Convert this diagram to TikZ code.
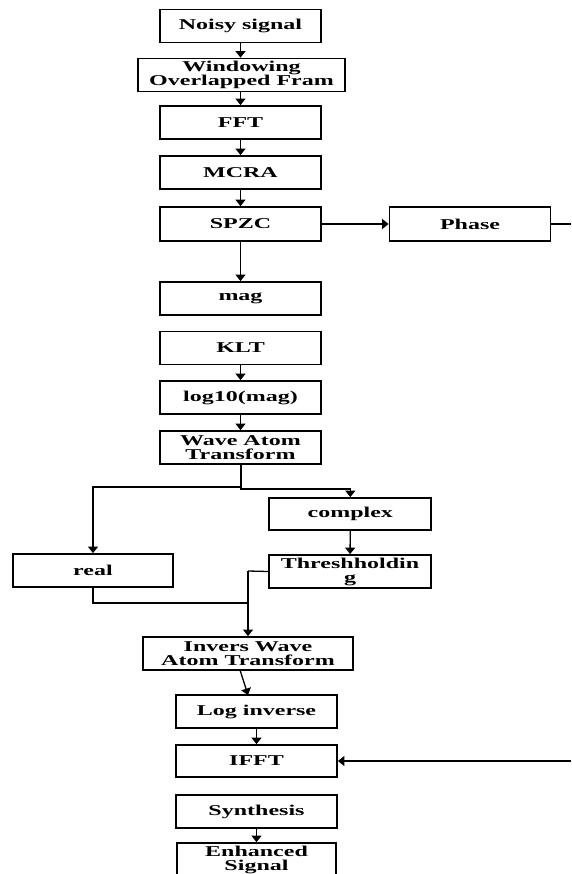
\documentclass[tikz,border=0pt]{standalone}
\usepackage{fontspec}
\setmainfont{Liberation Serif}[FakeStretch=1.6]
\usetikzlibrary{arrows.meta}

\tikzset{
  box/.style={draw, line width=1.8pt, minimum height=33pt, inner sep=0pt,
    align=center, font=\bfseries\fontsize{15}{14}\selectfont},
  mainbox/.style={box, minimum width=161pt},
  link/.style={line width=1.3pt},
  arrow/.style={link, -{Triangle[length=6.5pt,width=10pt]}}
}

\begin{document}
\begin{tikzpicture}[x=1pt, y=-1pt]
  \clip (0,0) rectangle (571,874);
  \fill[white] (0,0) rectangle (571,874);

  % main processing column
  \node[mainbox] (noisy) at (240.5,26) {Noisy signal};
  \node[box, minimum width=207pt] (window) at (241.5,75) {Windowing\\Overlapped Fram};
  \node[mainbox] (fft) at (240.5,122.5) {FFT};
  \node[mainbox] (mcra) at (240.5,172.5) {MCRA};
  \node[mainbox, minimum height=34pt] (spzc) at (240.5,224) {SPZC};
  \node[mainbox, minimum height=34pt] (phase) at (470,224) {Phase};
  \node[mainbox] (mag) at (240.5,298.5) {mag};
  \node[mainbox] (klt) at (240.5,348) {KLT};
  \node[mainbox] (logmag) at (240.5,397.5) {log10(mag)};
  \node[mainbox] (wat) at (240.5,447.5) {Wave Atom\\Transform};

  % real / complex branches
  \node[box, minimum width=162pt, minimum height=32pt] (complex) at (350.3,514) {complex};
  \node[box, minimum width=162pt] (thresh) at (350,571.5) {Threshholdin\\g};
  \node[mainbox, minimum width=160pt] (real) at (93,570.5) {real};

  % reconstruction column
  \node[box, minimum width=210pt] (iwat) at (248,653.5) {Invers Wave\\Atom Transform};
  \node[mainbox] (loginv) at (256.5,711.5) {Log inverse};
  \node[mainbox, minimum height=32pt] (ifft) at (256.5,761) {IFFT};
  \node[mainbox] (synth) at (256.5,811.5) {Synthesis};
  \node[mainbox, minimum width=159pt] (enh) at (256.5,859.5) {Enhanced\\Signal};

  % connectors of the main column
  \draw[arrow] (noisy) -- (noisy.south |- window.north);
  \draw[arrow] (window.south -| noisy.south) -- (fft);
  \draw[arrow] (fft) -- (mcra);
  \draw[arrow] (mcra) -- (spzc);
  \draw[arrow] (spzc) -- (phase);
  \coordinate (phaseout) at (571,224);
  \draw[link] (phase.east) -- (phaseout);
  \draw[arrow] (spzc) -- (mag);
  \draw[arrow] (klt) -- (logmag);
  \draw[arrow] (logmag) -- (wat);

  % split into real and complex parts
  \coordinate (splitl) at (241,487);
  \coordinate (splitr) at (241,489);
  \draw[arrow] (wat.south -| splitl) -- (splitl) -| (real.north);
  \draw[arrow] (splitl) -- (splitr) -| (complex.north);
  \draw[arrow] (complex) -- (thresh);

  % merge back into the inverse transform
  \coordinate (merge) at (248,571);
  \coordinate (realjoin) at (248,603);
  \draw[link] (thresh.west) -- (merge);
  \draw[link] (real.south) |- (realjoin);
  \draw[arrow] (merge) -- (merge |- iwat.north);

  % reconstruction connectors
  \coordinate (iwatout) at (240,670);
  \draw[arrow] (iwatout) -- (248,695);
  \draw[arrow] (loginv) -- (ifft);
  \coordinate (phasein) at (571,761);
  \draw[arrow] (phasein) -- (ifft.east);
  \draw[arrow] (synth) -- (enh);
\end{tikzpicture}
\end{document}
